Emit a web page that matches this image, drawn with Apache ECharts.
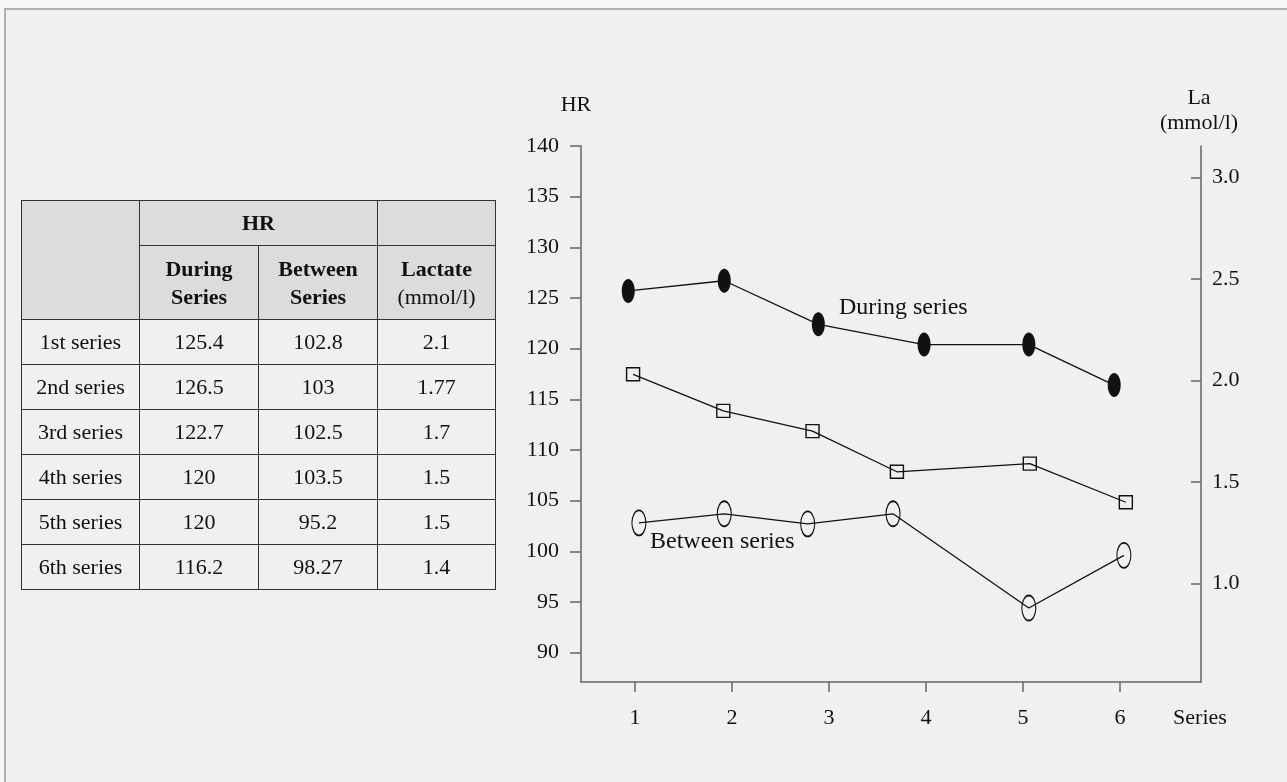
<!DOCTYPE html>
<html>
<head>
<meta charset="utf-8">
<script src="https://cdn.jsdelivr.net/npm/echarts@6/dist/echarts.min.js"></script>
<style>
  html, body { margin: 0; padding: 0; width: 1287px; height: 782px; overflow: hidden; background: #f6f6f6; }
  #frame { position: absolute; left: 4px; top: 8px; width: 1300px; height: 800px; background: #f0f0f0;
           border-top: 2px solid #b0b0b0; border-left: 2px solid #b0b0b0; }
  #chart { position: absolute; left: 0; top: 0; width: 1287px; height: 782px; }
  #tbl { position: absolute; left: 21px; top: 200px; border-collapse: collapse; z-index: 2;
         font-family: "Liberation Serif", "Times New Roman", serif; font-size: 22px; color: #111; }
  #tbl td, #tbl th { border: 1.5px solid #333; text-align: center; padding: 0; }
  #tbl th { background: #dcdcdc; font-weight: bold; line-height: 28px; }
  #tbl th .norm { font-weight: normal; }
  #tbl tbody td { height: 44px; }
</style>
</head>
<body>
<div id="frame"></div>
<div id="chart"></div>
<table id="tbl"></table>
<script>
// ---------- table data ----------
const rowNames = ['1st series', '2nd series', '3rd series', '4th series', '5th series', '6th series'];
const tableDuring = [125.4, 126.5, 122.7, 120, 120, 116.2];
const tableBetween = [102.8, 103, 102.5, 103.5, 95.2, 98.27];
const tableLactate = [2.1, 1.77, 1.7, 1.5, 1.5, 1.4];

// ---------- plotted data ----------
const xTicks = [1, 2, 3, 4, 5, 6];
const hrTicks = [90, 95, 100, 105, 110, 115, 120, 125, 130, 135, 140];
const laTicks = [1.0, 1.5, 2.0, 2.5, 3.0];
const duringX = [0.93, 1.92, 2.89, 3.98, 5.06, 5.94];
const duringHR = [125.7, 126.7, 122.4, 120.4, 120.4, 116.4];
const betweenX = [1.04, 1.92, 2.78, 3.66, 5.06, 6.04];
const betweenHR = [102.8, 103.7, 102.7, 103.7, 94.4, 99.6];
const lactateX = [0.98, 1.91, 2.83, 3.70, 5.07, 6.06];
const lactateVal = [2.03, 1.85, 1.75, 1.55, 1.59, 1.40];

// ---------- build table ----------
(function () {
  const t = document.getElementById('tbl');
  let html = '<colgroup><col style="width:118px"><col style="width:119px"><col style="width:119px"><col style="width:118px"></colgroup>';
  html += '<thead><tr style="height:45px"><th rowspan="2"></th><th colspan="2">HR</th><th></th></tr>';
  html += '<tr style="height:74px"><th>During<br>Series</th><th>Between<br>Series</th><th>Lactate<br><span class="norm">(mmol/l)</span></th></tr></thead><tbody>';
  for (let i = 0; i < rowNames.length; i++) {
    html += '<tr><td>' + rowNames[i] + '</td><td>' + tableDuring[i] + '</td><td>' + tableBetween[i] + '</td><td>' + tableLactate[i] + '</td></tr>';
  }
  html += '</tbody>';
  t.innerHTML = html;
})();

// ---------- chart ----------
const FONT = '"Liberation Serif", "Times New Roman", serif';
const AX = '#666666';
const INK = '#111111';
const ellipsePath = 'path://M5,0 C7.76,0 10,4.48 10,10 C10,15.52 7.76,20 5,20 C2.24,20 0,15.52 0,10 C0,4.48 2.24,0 5,0 Z';
const zip = (xs, ys) => xs.map((x, i) => [x, ys[i]]);
const txt = (text, x, y, size, align) => ({
  type: 'text', x: x, y: y,
  style: { text: text, font: size + 'px ' + FONT, fill: INK, textAlign: align || 'center', textVerticalAlign: 'middle' }
});

const chart = echarts.init(document.getElementById('chart'), null, { renderer: 'canvas' });
chart.setOption({
  animation: false,
  backgroundColor: 'transparent',
  textStyle: { fontFamily: FONT, color: INK },
  grid: { left: 581, top: 146, width: 620, height: 536 },
  xAxis: {
    type: 'value', min: 0.443, max: 6.835,
    splitLine: { show: false },
    axisLine: { lineStyle: { color: AX, width: 1.5 } },
    axisTick: { customValues: xTicks, length: 10, lineStyle: { color: AX, width: 1.5 } },
    axisLabel: { customValues: xTicks, margin: 25, fontSize: 22, color: INK, fontFamily: FONT }
  },
  yAxis: [
    {
      type: 'value', min: 87.1, max: 140, position: 'left',
      splitLine: { show: false },
      axisLine: { show: true, lineStyle: { color: AX, width: 1.5 } },
      axisTick: { show: true, customValues: hrTicks, length: 11, lineStyle: { color: AX, width: 1.5 } },
      axisLabel: { customValues: hrTicks, margin: 22, fontSize: 22, color: INK, fontFamily: FONT }
    },
    {
      type: 'value', min: 0.515, max: 3.154, position: 'right',
      splitLine: { show: false },
      axisLine: { show: true, lineStyle: { color: AX, width: 1.5 } },
      axisTick: { show: true, inside: true, customValues: laTicks, length: 10, lineStyle: { color: AX, width: 1.5 } },
      axisLabel: { customValues: laTicks, margin: 11, fontSize: 22, color: INK, fontFamily: FONT,
                   formatter: v => v.toFixed(1) }
    }
  ],
  series: [
    {
      type: 'line', yAxisIndex: 0, data: zip(duringX, duringHR),
      symbol: ellipsePath, symbolSize: [13, 24],
      lineStyle: { color: INK, width: 1.3 },
      itemStyle: { color: INK, borderWidth: 0 }
    },
    {
      type: 'line', yAxisIndex: 0, data: zip(betweenX, betweenHR),
      symbol: ellipsePath, symbolSize: [14, 25],
      lineStyle: { color: INK, width: 1.3 },
      itemStyle: { color: 'rgba(0,0,0,0)', borderColor: INK, borderWidth: 1.4 }
    },
    {
      type: 'line', yAxisIndex: 1, data: zip(lactateX, lactateVal),
      symbol: 'rect', symbolSize: 13,
      lineStyle: { color: INK, width: 1.3 },
      itemStyle: { color: 'rgba(0,0,0,0)', borderColor: INK, borderWidth: 1.4 }
    }
  ],
  graphic: [
    txt('HR', 576, 105, 22),
    txt('La', 1199, 98, 22),
    txt('(mmol/l)', 1199, 123, 22),
    txt('Series', 1200, 718, 22),
    txt('During series', 839, 308, 24, 'left'),
    txt('Between series', 650, 542, 24, 'left')
  ]
});
</script>
</body>
</html>
